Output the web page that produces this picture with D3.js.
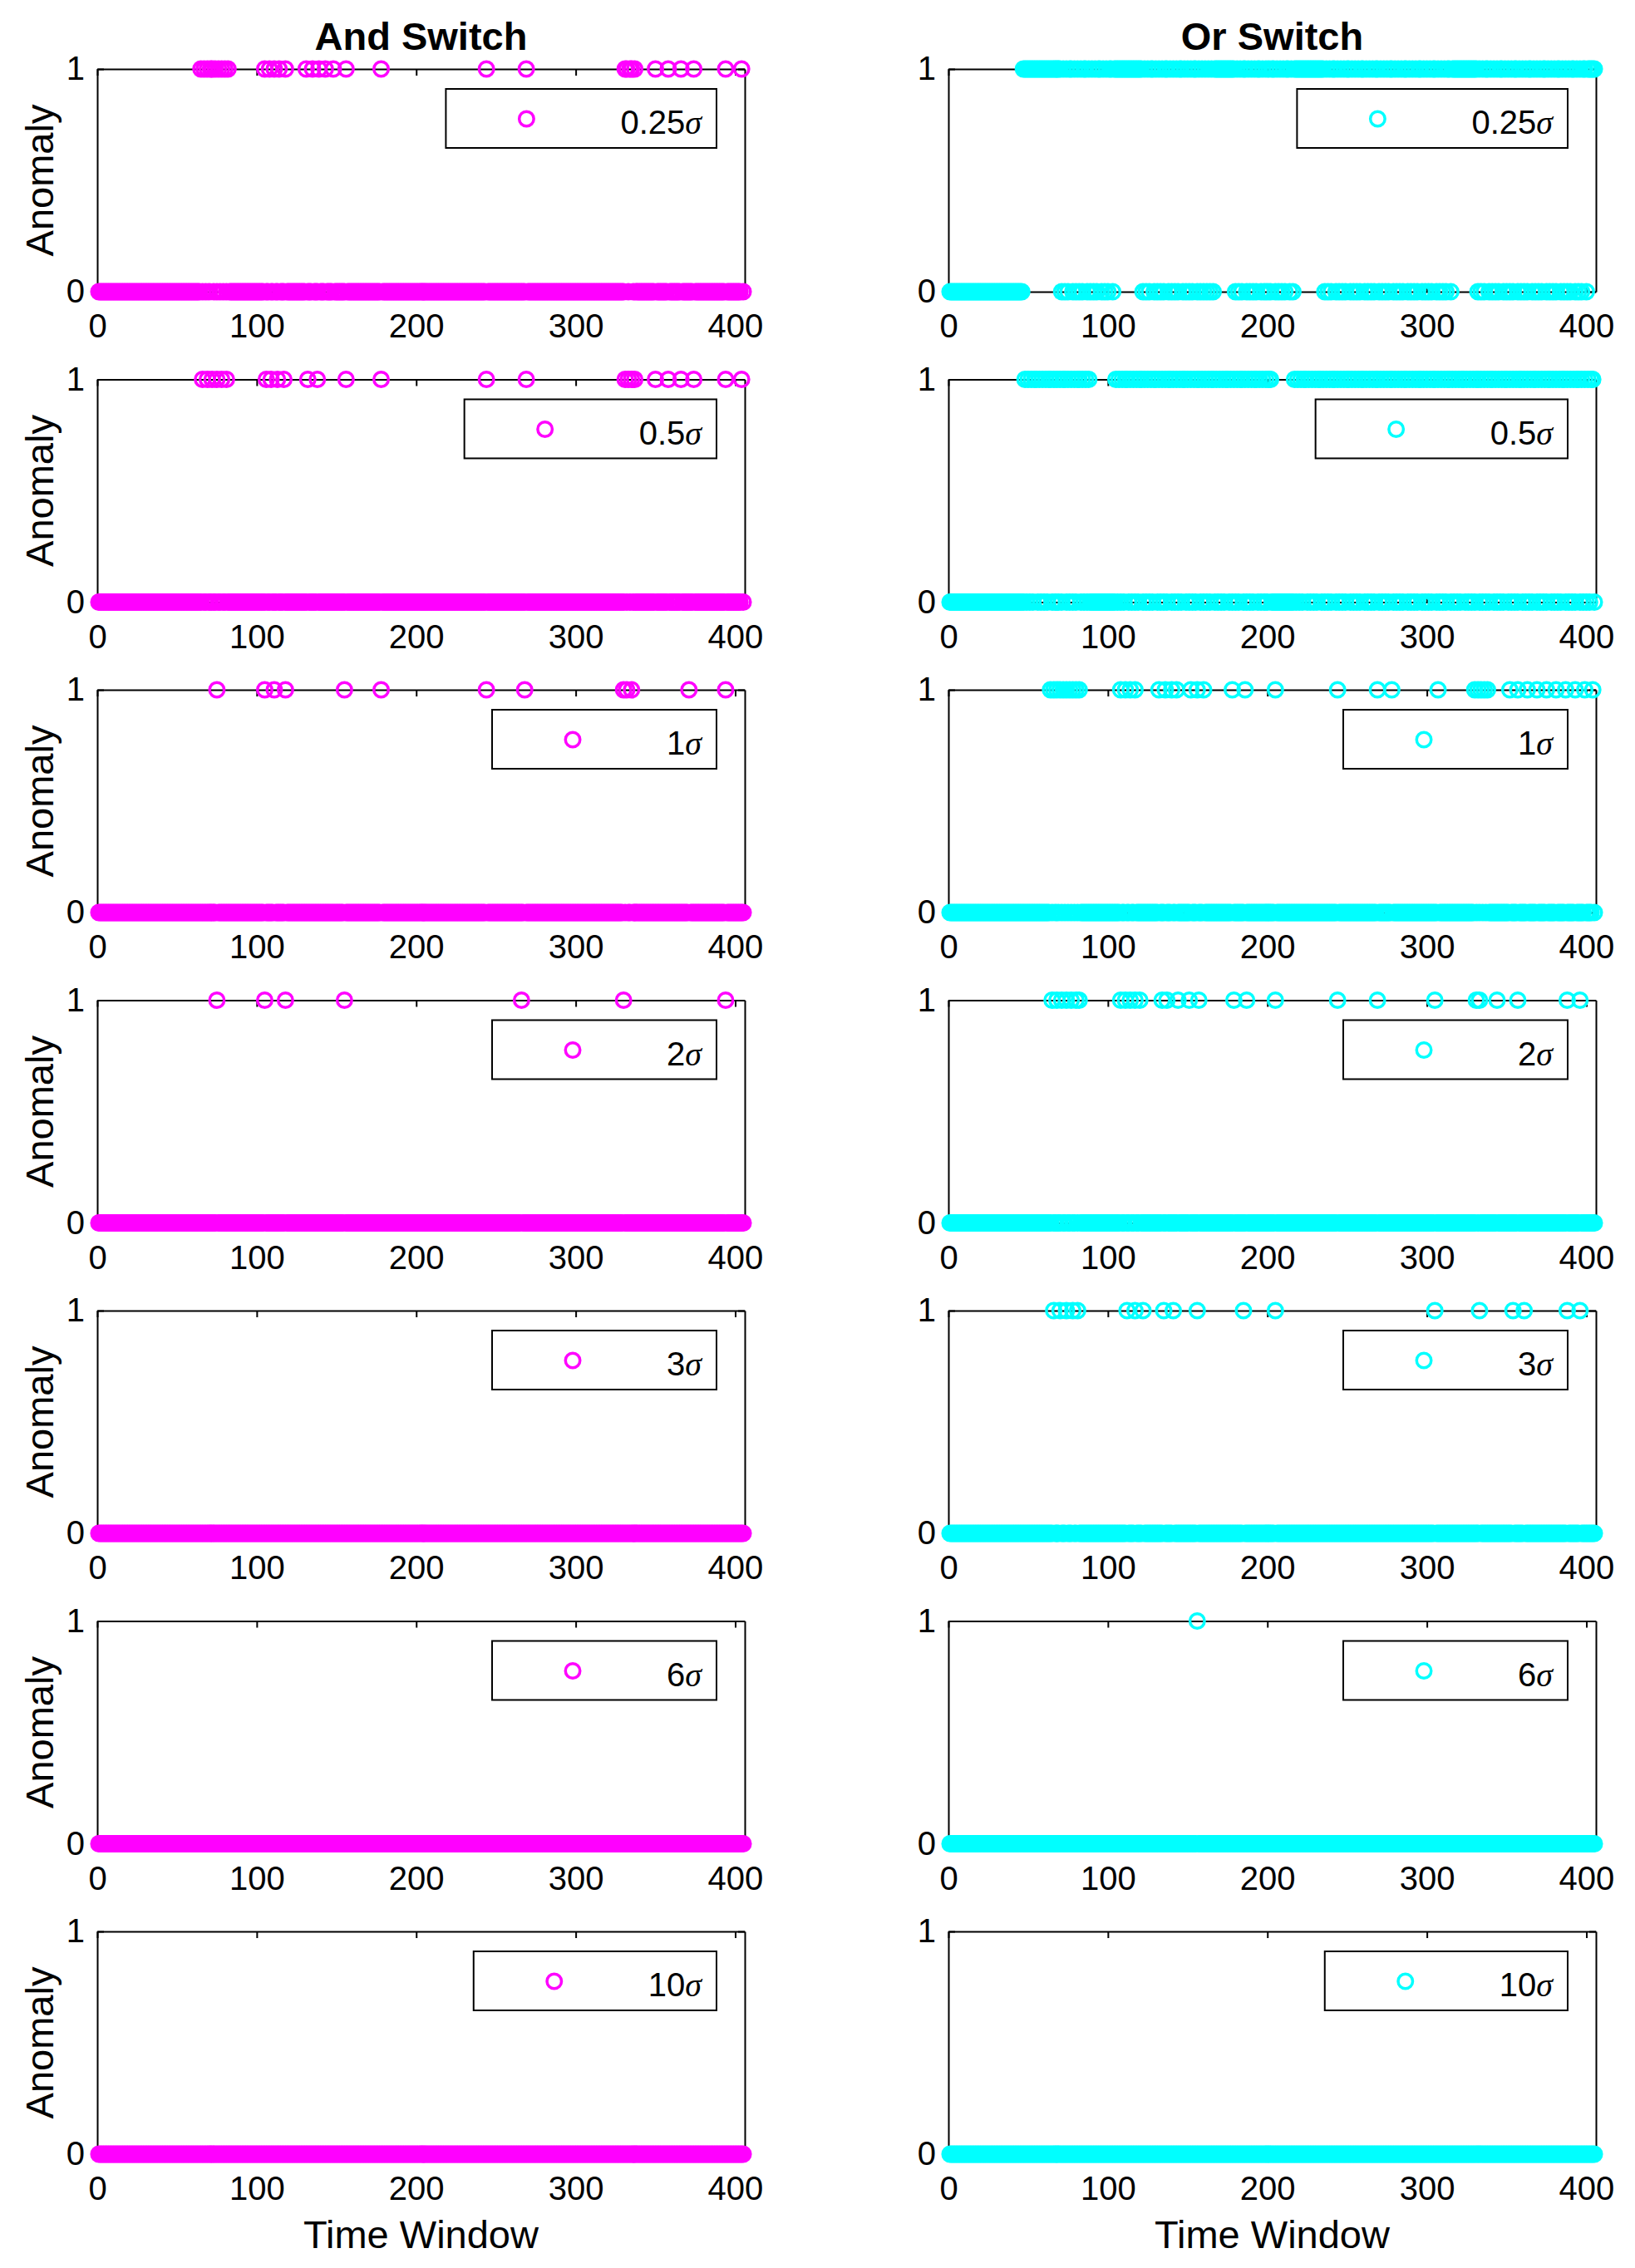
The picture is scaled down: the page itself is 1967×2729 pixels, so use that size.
<!DOCTYPE html>
<html>
<head>
<meta charset="utf-8">
<script src="https://cdn.jsdelivr.net/npm/d3@7/dist/d3.min.js"></script>
<style>
  body { margin: 0; background: #fff; }
  text { font-family: "Liberation Sans", Arial, sans-serif; fill: #000; }
</style>
</head>
<body>
<div id="chart"></div>
<script>
// ---- data ----
const N_WINDOWS = 405;
const thresholds = ["0.25", "0.5", "1", "2", "3", "6", "10"];
const xTicks = [0, 100, 200, 300, 400];
const yTicks = [0, 1];

// And switch: windows flagged as anomaly (a number, or [from, to])
const andFlagged025 = [65, 67, 69, 71, 72, 74, 76, 78, 80, 82, 105, 108, 111, 114, 118,
  131, 135, 139, 143, 148, 156, 178, 244, 269, 331, 332, 334, 335, 337,
  350, 358, 366, 374, 394, 404];
const andFlagged05 = [66, 69, 72, 75, 78, 81, 106, 109, 113, 117, 132, 138, 156, 178,
  244, 269, 331, 333, 335, 337, 350, 358, 366, 374, 394, 404];
const andFlagged1 = [75, 105, 111, 118, 155, 178, 244, 268, 330, 332, 335, 371, 394];
const andFlagged2 = [75, 105, 118, 155, 266, 330, 394];
const andFlagged3 = [];
const andFlagged6 = [];
const andFlagged10 = [];

// Or switch, low thresholds: nearly every window is flagged,
// so these list the windows that were NOT flagged
const orNormal025 = [[1, 46],
  71, 73, 75, 78, 80, 82, 84, 87, 89, 91, 93, 96, 98, 100, 103,
  122, 124, 126, 129, 131, 133, 135, 138, 140, 142, 144, 147, 149, 151, 153, 156, 158, 160,
  162, 164, 166,
  180, 182, 184, 187, 189, 191, 193, 196, 198, 200, 202, 205, 207, 209, 211, 214, 216,
  236, 238, 240, 243, 245, 247, 249, 252, 254, 256, 258, 261, 263, 265, 267, 270, 272, 274,
  276, 279, 281, 283, 285, 288, 290, 292, 294, 297, 299, 301, 303, 306, 308, 310, 312, 315,
  332, 334, 336, 339, 341, 343, 345, 348, 350, 352, 354, 357, 359, 361, 363, 366, 368, 370,
  372, 375, 377, 379, 381, 384, 386, 388, 390, 393, 395, 397, 400];
const orNormal05 = [[1, 47],
  49, 51, 53, 56, 58, 60, 62, 65, 67, 69, 71, 74, 76, 78, 80, 83, 85, 87,
  [89, 104],
  106, 108, 110, 113, 115, 117, 119, 122, 124, 126, 128, 131, 133, 135, 137, 140, 142, 144,
  146, 149, 151, 153, 155, 158, 160, 162, 164, 167, 169, 171, 173, 176, 178, 180, 182, 185,
  187, 189, 191, 194, 196, 198, 200,
  [203, 216],
  218, 220, 222, 225, 227, 229, 231, 234, 236, 238, 240, 243, 245, 247, 249, 252, 254, 256,
  258, 261, 263, 265, 267, 270, 272, 274, 276, 279, 281, 283, 285, 288, 290, 292, 294, 297,
  299, 301, 303, 306, 308, 310, 312, 315, 317, 319, 321, 324, 326, 328, 330, 333, 335, 337,
  339, 342, 344, 346, 348, 351, 353, 355, 357, 360, 362, 364, 366, 369, 371, 373, 375, 378,
  380, 382, 384, 387, 389, 391, 393, 396, 398, 400, 402, 405];
const orFlagged1 = [64, 66, 68, 70, 72, 74, 76, 78, 80, 82, 108, 111, 114, 117,
  132, 136, 140, 143, 152, 156, 160, 178, 186, 205, 244, 269, 278, 307,
  330, 332, 334, 336, 338, 352, 357, 363, 369, 375, 381, 387, 393, 399, 404];
const orFlagged2 = [65, 68, 71, 74, 77, 80, 82, 108, 111, 114, 117, 120,
  134, 137, 144, 151, 157, 179, 187, 205, 244, 269, 305, 331, 333, 344, 357, 388, 396];
const orFlagged3 = [66, 70, 74, 78, 81, 112, 117, 122, 135, 141, 156, 185, 205, 305,
  333, 354, 361, 388, 396];
const orFlagged6 = [156];
const orFlagged10 = [];

const columns = [
  { title: "And Switch", color: "#ff00ff",
    panels: [andFlagged025, andFlagged05, andFlagged1, andFlagged2, andFlagged3, andFlagged6, andFlagged10]
      .map(d => ({ flagged: d })) },
  { title: "Or Switch", color: "#00ffff",
    panels: [{ normal: orNormal025 }, { normal: orNormal05 }, { flagged: orFlagged1 },
      { flagged: orFlagged2 }, { flagged: orFlagged3 }, { flagged: orFlagged6 }, { flagged: orFlagged10 }] }
];

function expand(list) {
  const s = new Set();
  list.forEach(d => {
    if (Array.isArray(d)) for (let i = d[0]; i <= d[1]; i++) s.add(i);
    else s.add(d);
  });
  return s;
}

function series(panel) {
  const set = expand(panel.flagged || panel.normal);
  return d3.range(1, N_WINDOWS + 1).map(t => {
    const hit = set.has(t);
    return { t: t, v: panel.flagged ? (hit ? 1 : 0) : (hit ? 0 : 1) };
  });
}

// ---- layout ----
const W = 1967, H = 2729;
const colLeft = [117, 1141];
const plotW = 779, plotH = 268;
const rowTop0 = 83, rowStep = 373.5;
const markerR = 8.75, markerW = 3.5;

const svg = d3.select("#chart").append("svg")
  .attr("width", W).attr("height", H)
  .style("background", "#fff");

const x = d3.scaleLinear().domain([0, 406]).range([0, plotW]);
const y = d3.scaleLinear().domain([0, 1]).range([plotH, 0]);

columns.forEach((col, ci) => {
  const left = colLeft[ci];

  svg.append("text")
    .attr("x", left + plotW / 2).attr("y", 60)
    .attr("text-anchor", "middle")
    .style("font-size", "47px").style("font-weight", "bold")
    .text(col.title);

  col.panels.forEach((panel, ri) => {
    const top = rowTop0 + ri * rowStep;
    const g = svg.append("g").attr("transform", "translate(" + left + "," + top + ")");

    // axes box with inward ticks
    g.append("g").attr("transform", "translate(0," + plotH + ")")
      .call(d3.axisBottom(x).tickValues(xTicks).tickSizeInner(-8).tickSizeOuter(0).tickPadding(27));
    g.append("g")
      .call(d3.axisTop(x).tickValues(xTicks).tickSizeInner(-8).tickSizeOuter(0).tickFormat(""));
    g.append("g")
      .call(d3.axisLeft(y).tickValues(yTicks).tickFormat(d3.format("d"))
        .tickSizeInner(-8).tickSizeOuter(0).tickPadding(15));
    g.append("g").attr("transform", "translate(" + plotW + ",0)")
      .call(d3.axisRight(y).tickValues(yTicks).tickSizeInner(-8).tickSizeOuter(0).tickFormat(""));

    g.selectAll(".domain, .tick line").attr("stroke", "#000").attr("stroke-width", 2);
    g.selectAll(".tick text").style("font-size", "40px")
      .style("font-family", "'Liberation Sans', Arial, sans-serif").attr("fill", "#000");

    // markers
    g.append("g").selectAll("circle")
      .data(series(panel))
      .enter().append("circle")
      .attr("cx", d => x(d.t))
      .attr("cy", d => y(d.v))
      .attr("r", markerR)
      .attr("fill", "none")
      .attr("stroke", col.color)
      .attr("stroke-width", markerW);

    // legend
    const lg = g.append("g");
    const box = lg.append("rect")
      .attr("fill", "#fff").attr("stroke", "#000").attr("stroke-width", 2)
      .attr("height", 71);
    const label = lg.append("text")
      .attr("text-anchor", "end")
      .style("font-size", "40px");
    label.append("tspan").text(thresholds[ri]);
    label.append("tspan")
      .style("font-family", "'Liberation Serif', 'DejaVu Serif', serif")
      .style("font-style", "italic")
      .text("\u03c3");
    const tw = label.node().getComputedTextLength();
    const lw = tw + 228;
    const lx = plotW - 34 - lw, ly = 24;
    box.attr("x", lx).attr("y", ly).attr("width", lw);
    label.attr("x", lx + lw - 18).attr("y", ly + 54);
    lg.append("circle")
      .attr("cx", lx + 97).attr("cy", ly + 36)
      .attr("r", markerR)
      .attr("fill", "none")
      .attr("stroke", col.color)
      .attr("stroke-width", markerW);

    if (ci === 0) {
      svg.append("text")
        .attr("transform", "translate(64," + (top + plotH / 2) + ") rotate(-90)")
        .attr("text-anchor", "middle")
        .style("font-size", "47px")
        .text("Anomaly");
    }
  });

  svg.append("text")
    .attr("x", left + plotW / 2).attr("y", 2705)
    .attr("text-anchor", "middle")
    .style("font-size", "47px")
    .text("Time Window");
});
</script>
</body>
</html>
